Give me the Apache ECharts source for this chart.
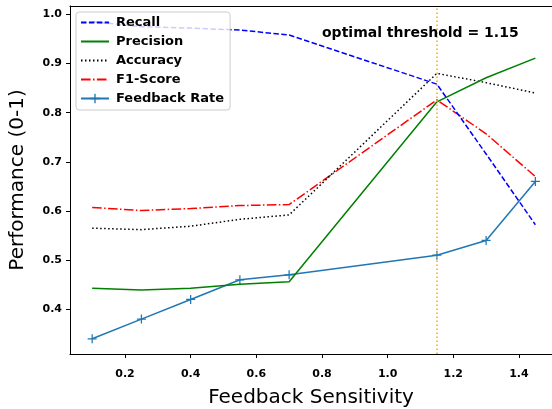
<!DOCTYPE html>
<html>
<head>
<meta charset="utf-8">
<script src="https://cdn.jsdelivr.net/npm/echarts@6/dist/echarts.min.js"></script>
<style>html,body{margin:0;padding:0;background:#fff}#c{width:552px;height:409px}</style>
</head>
<body>
<div id="c"></div>
<script>
var sensitivity = [0.1, 0.25, 0.4, 0.55, 0.7, 1.15, 1.3, 1.45];
var recall =      [0.985, 0.975, 0.972, 0.968, 0.958, 0.858, 0.716, 0.572];
var precision =   [0.443, 0.439, 0.443, 0.451, 0.456, 0.822, 0.871, 0.911];
var accuracy =    [0.565, 0.562, 0.569, 0.583, 0.592, 0.880, 0.861, 0.840];
var f1score =     [0.607, 0.601, 0.605, 0.611, 0.613, 0.826, 0.757, 0.670];
var feedbackRate =[0.34, 0.38, 0.42, 0.46, 0.47, 0.51, 0.54, 0.66];
var optimalThreshold = 1.15;
var xTicks = [0.2, 0.4, 0.6, 0.8, 1.0, 1.2, 1.4];
var yTicks = [0.4, 0.5, 0.6, 0.7, 0.8, 0.9, 1.0];
var seriesNames = ['Recall', 'Precision', 'Accuracy', 'F1-Score', 'Feedback Rate'];

function pairs(ys){ return sensitivity.map(function(x,i){return [x, ys[i]];}); }

var FONT = 'DejaVu Sans';
var plus = 'path://M4.3,0 h1.4 v4.3 h4.3 v1.4 h-4.3 v4.3 h-1.4 v-4.3 h-4.3 v-1.4 h4.3z';
var hidden = {color: 'rgba(0,0,0,0)', borderColor: 'rgba(0,0,0,0)', opacity: 0};

var chart = echarts.init(document.getElementById('c'), null, {renderer:'canvas'});
chart.setOption({
  animation: false,
  grid: {left: 70, top: 6, right: 0, bottom: 55, outerBoundsMode: 'none', containLabel: false},
  xAxis: [{
    type: 'value', min: 0.0325, max: 1.5007,
    name: 'Feedback Sensitivity', nameLocation: 'middle', nameGap: 34,
    nameTextStyle: {fontFamily: FONT, fontSize: 20, color: '#000'},
    axisLine: {show: true, onZero: false, lineStyle: {color: '#000', width: 1}},
    axisTick: {show: true, length: 4, lineStyle: {color: '#000'}, customValues: xTicks},
    axisLabel: {fontFamily: FONT, fontWeight: 'bold', fontSize: 11, color: '#000', margin: 15,
      customValues: xTicks, formatter: function(v){ return v.toFixed(1); }},
    splitLine: {show: false}
  }, {
    type: 'value', position: 'top', min: 0.0325, max: 1.5007,
    axisLine: {show: true, onZero: false, lineStyle: {color: '#000', width: 1}},
    axisTick: {show: false}, axisLabel: {show: false}, splitLine: {show: false}
  }],
  yAxis: {
    type: 'value', min: 0.309, max: 1.017,
    name: 'Performance (0-1)', nameLocation: 'middle', nameGap: 42, nameRotate: 90,
    nameTextStyle: {fontFamily: FONT, fontSize: 20, color: '#000'},
    axisLine: {show: true, onZero: false, lineStyle: {color: '#000', width: 1}},
    axisTick: {show: true, length: 4, lineStyle: {color: '#000'}, customValues: yTicks},
    axisLabel: {fontFamily: FONT, fontWeight: 'bold', fontSize: 11, color: '#000', margin: 8,
      customValues: yTicks, formatter: function(v){ return v.toFixed(1); }},
    splitLine: {show: false}
  },
  legend: {
    orient: 'vertical', left: 76, top: 12, z: 20,
    data: [
      {name: 'Recall', itemStyle: hidden},
      {name: 'Precision', itemStyle: hidden},
      {name: 'Accuracy', itemStyle: hidden},
      {name: 'F1-Score', itemStyle: hidden},
      {name: 'Feedback Rate'}
    ],
    itemWidth: 28, itemHeight: 12, itemGap: 6,
    padding: [4, 6, 5, 4],
    backgroundColor: 'rgba(255,255,255,0.8)',
    borderColor: '#cccccc', borderWidth: 1, borderRadius: 3,
    textStyle: {fontFamily: FONT, fontWeight: 'bold', fontSize: 13, color: '#000', padding: [0, 0, 0, 2]}
  },
  graphic: [{
    type: 'text', left: 322, top: 26, z: 100,
    style: {text: 'optimal threshold = ' + optimalThreshold.toFixed(2), font: 'bold 14px "DejaVu Sans"', fill: '#000'}
  }],
  series: [
    {name: 'Recall', type: 'line', data: pairs(recall), symbol: 'none', z: 5,
     lineStyle: {color: '#0000ff', width: 1.5, type: [5.5, 2.4]}, itemStyle: {color: '#0000ff'},
     markLine: {silent: true, symbol: 'none', label: {show: false},
       lineStyle: {color: '#ffa500', width: 1.5, type: [1.5, 2.5]},
       data: [{xAxis: optimalThreshold}]}},
    {name: 'Precision', type: 'line', data: pairs(precision), symbol: 'none', z: 4,
     lineStyle: {color: '#008000', width: 1.5, type: 'solid'}, itemStyle: {color: '#008000'}},
    {name: 'Accuracy', type: 'line', data: pairs(accuracy), symbol: 'none', z: 3,
     lineStyle: {color: '#000000', width: 1.5, type: [1.5, 2.5]}, itemStyle: {color: '#000000'}},
    {name: 'F1-Score', type: 'line', data: pairs(f1score), symbol: 'none', z: 2,
     lineStyle: {color: '#ff0000', width: 1.5, type: [9.6, 2.4, 1.5, 2.4]}, itemStyle: {color: '#ff0000'}},
    {name: 'Feedback Rate', type: 'line', data: pairs(feedbackRate), symbol: plus, symbolSize: 9, showSymbol: true, z: 1,
     lineStyle: {color: '#1f77b4', width: 1.5}, itemStyle: {color: '#1f77b4'}}
  ]
});
</script>
</body>
</html>
